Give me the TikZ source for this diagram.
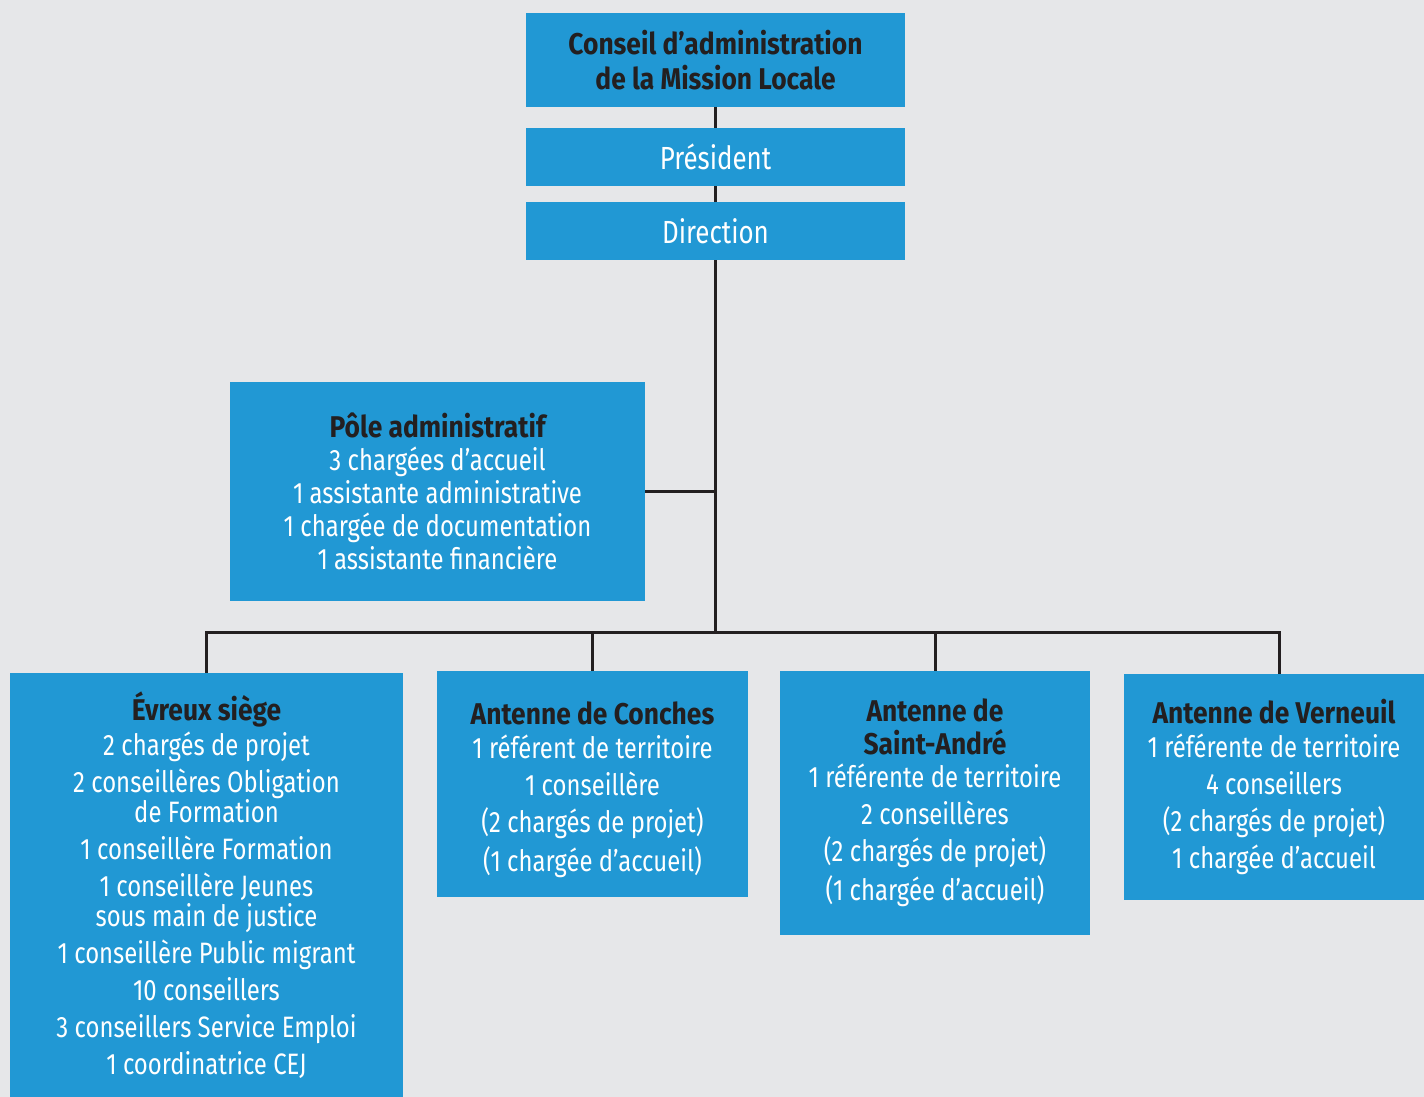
\documentclass[tikz,border=0pt]{standalone}
\usepackage{fontspec}
\setmainfont{Fira Sans}[FakeStretch=0.81,BoldFeatures={FakeStretch=0.88}]
\definecolor{bg}{HTML}{E6E7E9}
\definecolor{boxblue}{HTML}{2198D4}
\definecolor{ink}{HTML}{231F20}
\begin{document}
\begin{tikzpicture}[x=1pt,y=-1pt,
  orgbox/.style={fill=boxblue,draw=none,inner sep=0pt,outer sep=0pt,align=center,text=white,
    font=\fontsize{29.5}{30}\selectfont},
  conn/.style={draw=ink,line width=3pt}]
\newcommand{\hd}[1]{\textcolor{ink}{\fontsize{30}{30}\selectfont\bfseries #1}}
\fill[bg] (0,0) rectangle (1424,1097);
\useasboundingbox (0,0) rectangle (1424,1097);

\node[orgbox,minimum width=379,minimum height=94,font=\fontsize{29}{35}\selectfont] (top) at (715.5,60)
  {\hd{Conseil d’administration}\\\hd{de la Mission Locale}};
\node[orgbox,minimum width=379,minimum height=58,font=\fontsize{32}{32}\selectfont] (pres) at (715.5,157) {Président};
\node[orgbox,minimum width=379,minimum height=58,font=\fontsize{32}{32}\selectfont] (dir) at (715.5,231) {Direction};

\node[orgbox,minimum width=415,minimum height=219] (pole) at (437.5,491.5)
  {\hd{Pôle administratif}\\[3pt]3 chargées d’accueil\\[3pt]1 assistante administrative\\[3pt]1 chargée de documentation\\[3pt]1 assistante financière};

\node[orgbox,minimum width=393,minimum height=424] (evreux) at (206.5,885)
  {\hd{Évreux siège}\\[4pt]2 chargés de projet\\[7pt]2 conseillères Obligation\\de Formation\\[7pt]1 conseillère Formation\\[7pt]1 conseillère Jeunes\\sous main de justice\\[7pt]1 conseillère Public migrant\\[7pt]10 conseillers\\[7pt]3 conseillers Service Emploi\\[7pt]1 coordinatrice CEJ};

\node[orgbox,minimum width=311,minimum height=226] (conches) at (592.5,784)
  {\rule{0pt}{34pt}\hd{Antenne de Conches}\\[4pt]1 référent de territoire\\[7pt]1 conseillère\\[7pt](2 chargés de projet)\\[7pt](1 chargée d’accueil)};

\node[orgbox,minimum width=310,minimum height=264] (standre) at (935,803)
  {\hd{Antenne de}\\[3pt]\hd{Saint-André}\\[3pt]1 référente de territoire\\[7pt]2 conseillères\\[7pt](2 chargés de projet)\\[7pt](1 chargée d’accueil)};

\node[orgbox,minimum width=300,minimum height=226] (verneuil) at (1274,787)
  {\hd{Antenne de Verneuil}\\[4pt]1 référente de territoire\\[7pt]4 conseillers\\[7pt](2 chargés de projet)\\[7pt]1 chargée d’accueil};

\coordinate (bus) at (715,632);
\coordinate (busL) at (206.5,632);
\coordinate (busR) at (1279,632);

\draw[conn] (top.south -| bus) -- (pres.north -| bus);
\draw[conn] (pres.south -| bus) -- (dir.north -| bus);
\draw[conn] (dir.south -| bus) -- (bus);
\draw[conn] (pole.east) -- (pole.east -| bus);
\draw[conn,line cap=rect] (busL) -- (busR);
\draw[conn] (busL) -- (evreux.north);
\draw[conn] (conches.north |- bus) -- (conches.north);
\draw[conn] (standre.north |- bus) -- (standre.north);
\draw[conn] (busR) -- (busR |- verneuil.north);
\end{tikzpicture}
\end{document}
